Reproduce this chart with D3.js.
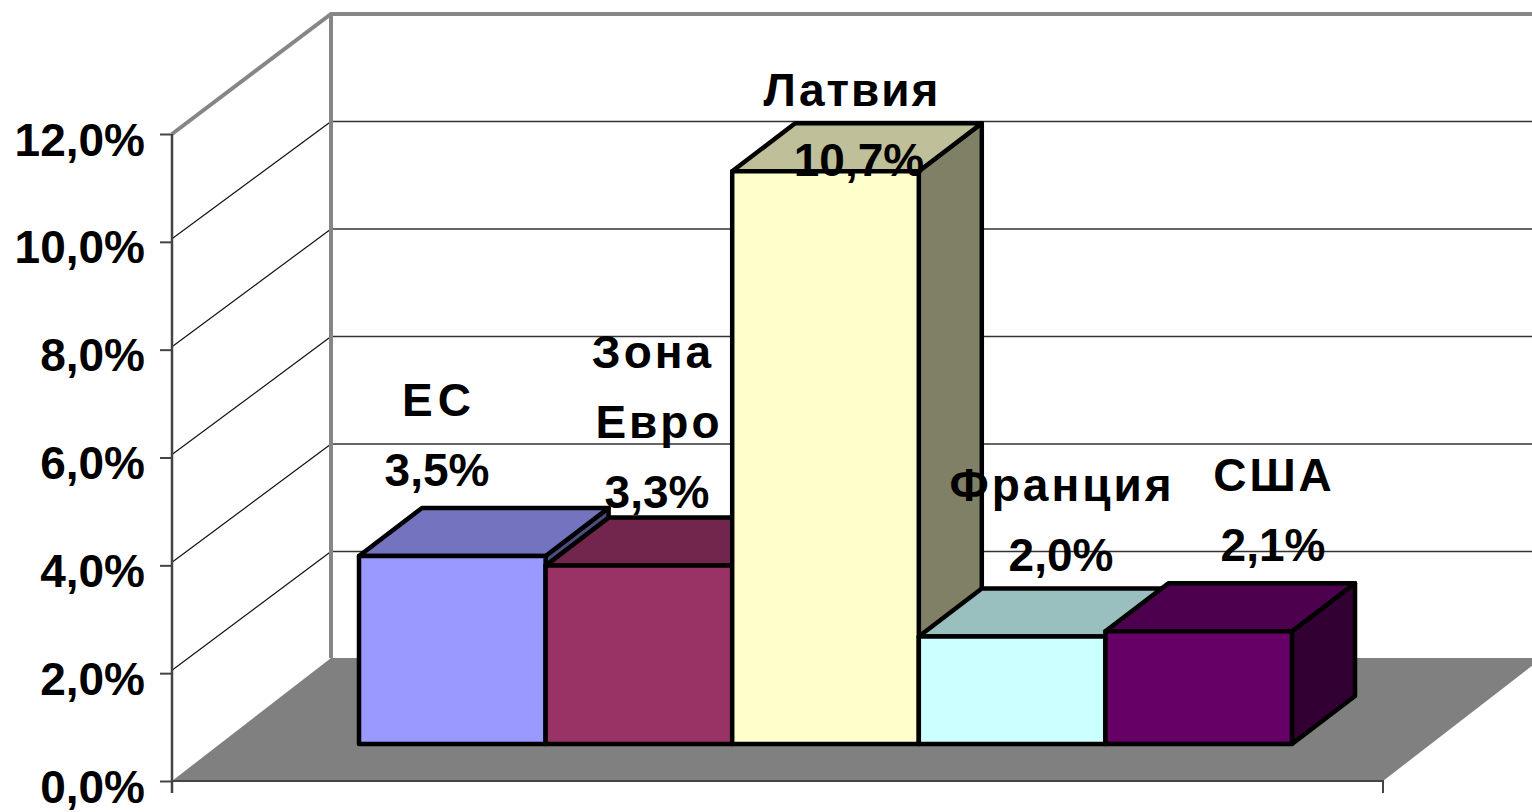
<!DOCTYPE html>
<html><head><meta charset="utf-8">
<script src="https://cdn.jsdelivr.net/npm/d3@7/dist/d3.min.js"></script>
<style>html,body{margin:0;padding:0;background:#fff;overflow:hidden}
text{font-family:"Liberation Sans",Arial,sans-serif;font-weight:bold;fill:#000;font-size:46px}</style>
</head><body><svg id="c" width="1532" height="812"></svg>
<script>
const categories = ["ЕС","Зона Евро","Латвия","Франция","США"];
const values = [3.5,3.32,10.66,2.0,2.1];
const colors = ["#9999ff","#993366","#ffffcc","#ccffff","#660066"];
const tickValues = [0,2,4,6,8,10,12];

const svg = d3.select("#c");
const W0 = 172, W1 = 1383, Y0 = 781, Y12 = 134;
const DX = 159, FLOOR_BACK = 658;
const BD = {x:63, y:-48};
const BASE = 744;
const y = d3.scaleLinear().domain([0,12]).range([Y0,Y12]);
const backY = d3.scaleLinear().domain([0,12]).range([659,14]);
const h = v => (Y0-Y12)/12*v*0.9965;
const x = d3.scaleBand().domain(categories).range([359,1292]).padding(0);
const loc = d3.formatLocale({decimal:",",thousands:" ",grouping:[3],currency:["","%"]});
const f1 = loc.format(".1f");
const pts = a => a.map(p=>p.join(",")).join(" ");

// floor
svg.append("polygon").attr("points",pts([[W0,Y0],[W0+DX,FLOOR_BACK],[W1+DX,FLOOR_BACK],[W1,Y0]])).attr("fill","#808080");
// back gridlines
svg.selectAll(".g").data(tickValues.slice(1,-1)).join("line")
  .attr("x1",W0+DX).attr("x2",1532).attr("y1",d=>backY(d)).attr("y2",d=>backY(d))
  .attr("stroke","#333").attr("stroke-width",1.5);
// side-wall gridlines
svg.selectAll(".d").data(tickValues.slice(1,-1)).join("line")
  .attr("x1",W0).attr("x2",W0+DX).attr("y1",d=>y(d)-3).attr("y2",d=>backY(d))
  .attr("stroke","#111").attr("stroke-width",1.2);
// wall borders
svg.append("path").attr("d",`M${W0},${y(12)}L${W0+DX},${backY(12)}L1532,${backY(12)}M${W0+DX},${backY(12)}L${W0+DX},${FLOOR_BACK}`)
  .attr("fill","none").attr("stroke","#868686").attr("stroke-width",4);
// axis
const ax = d3.axisLeft(y).tickValues(tickValues).tickFormat(d=>f1(d)+"%").tickSize(12).tickPadding(15);
const gA = svg.append("g").attr("transform",`translate(${W0},0)`).call(ax);
gA.select(".domain").attr("stroke","#444").attr("stroke-width",2.5).attr("d",`M0,${Y12}V${Y0+12}`);
gA.selectAll(".tick line").attr("stroke","#444").attr("stroke-width",2);
gA.selectAll(".tick text").attr("dy",21).attr("fill","#000");
gA.attr("font-family",null).attr("font-size",null);
// bottom edges
svg.append("path").attr("d",`M${W0},${Y0}H${W1}V${Y0+12}`).attr("fill","none").attr("stroke","#444").attr("stroke-width",2);

// bars
const shade = (c,k)=>{const r=d3.rgb(c);return d3.rgb(r.r*k,r.g*k,r.b*k).formatHex();};
const bars = svg.selectAll(".bar").data(categories.map((c,i)=>({c,v:values[i],col:colors[i]}))).join("g");
bars.each(function(d){
  const g=d3.select(this), a=x(d.c), b=a+x.bandwidth(), t=BASE-h(d.v);
  const st=s=>s.attr("stroke","#000").attr("stroke-width",4.5).attr("stroke-linejoin","round");
  st(g.append("polygon").attr("points",pts([[b,BASE],[b+BD.x,BASE+BD.y],[b+BD.x,t+BD.y],[b,t]])).attr("fill",shade(d.col,.5)));
  st(g.append("polygon").attr("points",pts([[a,t],[a+BD.x,t+BD.y],[b+BD.x,t+BD.y],[b,t]])).attr("fill",shade(d.col,.75)));
  st(g.append("rect").attr("x",a).attr("y",t).attr("width",b-a).attr("height",BASE-t).attr("fill",d.col));
});

// data labels: one row per text line
const labelLines = [["ЕС"],["Зона","Евро"],["Латвия"],["Франция"],["США"]];
const labelX = [[439,437],[653,659,657],[852,859],[1062,1061],[1274,1273]];
const labelY = [486,508,176,571,561];
const spacing = [5,3,2,3,3];
labelLines.forEach((ls,i)=>{
  const all = ls.concat([f1(+values[i].toFixed(1))+"%"]);
  all.forEach((s,j)=>{
    const pct = j===all.length-1;
    svg.append("text").attr("text-anchor","middle")
      .attr("x",labelX[i][j]).attr("y",labelY[i]-(all.length-1-j)*70)
      .attr("letter-spacing",pct?0:spacing[i]).text(s);
  });
});
</script></body></html>
